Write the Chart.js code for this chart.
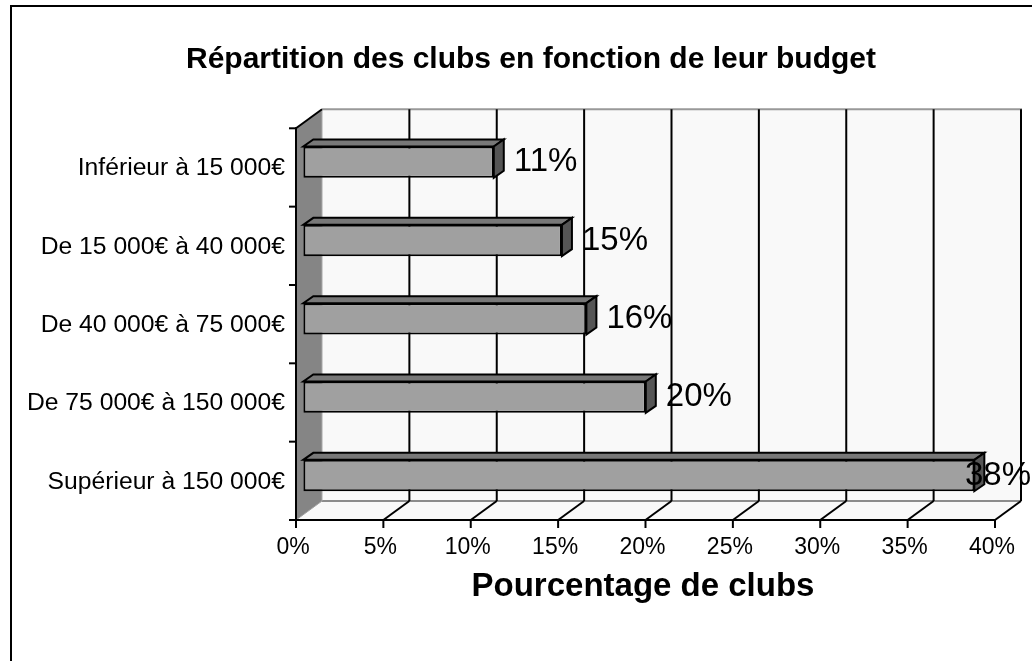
<!DOCTYPE html>
<html><head><meta charset="utf-8">
<script src="https://cdn.jsdelivr.net/npm/chart.js@4/dist/chart.umd.min.js"></script>
<style>html,body{margin:0;padding:0;background:#fff;}#wrap{width:1032px;height:661px;}</style>
</head><body><div id="wrap"><canvas id="c" width="1032" height="661"></canvas></div>
<script>
const categories = ["Inférieur à 15 000€", "De 15 000€ à 40 000€", "De 40 000€ à 75 000€", "De 75 000€ à 150 000€", "Supérieur à 150 000€"];
const values = [10.9, 14.8, 16.2, 19.6, 38.4];
const valueLabels = ["11%", "15%", "16%", "20%", "38%"];
const xTicks = [0, 5, 10, 15, 20, 25, 30, 35, 40];
const xTickLabels = ["0%", "5%", "10%", "15%", "20%", "25%", "30%", "35%", "40%"];
const chartTitle = "Répartition des clubs en fonction de leur budget";
const axisTitle = "Pourcentage de clubs";

const FONT = "'Liberation Sans', Arial, sans-serif";
const DEPTH = {dx: 26, dy: -19};
const BAR_SHIFT = {dx: 7.3, dy: -5.3};
const BAR_DEPTH = {dx: 10, dy: -7};

function poly(ctx, pts, fill, stroke, lw) {
  ctx.beginPath();
  ctx.moveTo(pts[0][0], pts[0][1]);
  for (let i = 1; i < pts.length; i++) ctx.lineTo(pts[i][0], pts[i][1]);
  ctx.closePath();
  if (fill) { ctx.fillStyle = fill; ctx.fill(); }
  if (stroke) { ctx.strokeStyle = stroke; ctx.lineWidth = lw || 1; ctx.stroke(); }
}
function line(ctx, x1, y1, x2, y2, color, lw) {
  ctx.beginPath(); ctx.moveTo(x1, y1); ctx.lineTo(x2, y2);
  ctx.strokeStyle = color; ctx.lineWidth = lw; ctx.stroke();
}

const threeD = {
  id: 'threeD',
  beforeDraw(chart) {
    const ctx = chart.ctx;
    ctx.save();
    ctx.fillStyle = '#fff';
    ctx.fillRect(0, 0, chart.width, chart.height);
    ctx.strokeStyle = '#000';
    ctx.lineWidth = 2;
    ctx.strokeRect(11, 6, chart.width + 20, chart.height + 20);
    ctx.fillStyle = '#000';
    ctx.font = 'bold 30px ' + FONT;
    ctx.textAlign = 'center';
    ctx.textBaseline = 'middle';
    ctx.fillText(chartTitle, 531, 60);
    ctx.restore();
  },
  beforeDatasetsDraw(chart) {
    const ctx = chart.ctx;
    const xs = chart.scales.x, ys = chart.scales.y;
    const x0 = xs.getPixelForValue(xTicks[0]);
    const x1 = xs.getPixelForValue(xTicks[xTicks.length - 1]);
    const step = ys.getPixelForValue(1) - ys.getPixelForValue(0);
    const yT = ys.getPixelForValue(0) - step / 2;
    const yB = ys.getPixelForValue(categories.length - 1) + step / 2;
    const dx = DEPTH.dx, dy = DEPTH.dy;
    ctx.save();
    ctx.lineJoin = 'miter';
    poly(ctx, [[x0 + dx, yT + dy], [x1 + dx, yT + dy], [x1 + dx, yB + dy], [x0 + dx, yB + dy]], '#f9f9f9');
    poly(ctx, [[x0, yB], [x1, yB], [x1 + dx, yB + dy], [x0 + dx, yB + dy]], '#f9f9f9');
    line(ctx, x0 + dx, yT + dy, x1 + dx + 1, yT + dy, '#999', 2);
    line(ctx, x0 + dx, yB + dy, x1 + dx, yB + dy, '#8c8c8c', 2);
    xTicks.forEach((v, i) => {
      const px = xs.getPixelForValue(v);
      if (i > 0) {
        line(ctx, px + dx, yT + dy, px + dx, yB + dy, '#000', 2);
        line(ctx, px, yB, px + dx, yB + dy, '#000', 2);
      }
    });
    poly(ctx, [[x0, yT], [x0 + dx, yT + dy], [x0 + dx, yB + dy], [x0, yB]], '#858585');
    line(ctx, x0 + dx, yT + dy, x0 + dx, yB + dy, '#a8a8a8', 1);
    line(ctx, x0, yB, x0 + dx, yB + dy, '#a0a0a0', 1);
    line(ctx, x0, yT, x0 + dx, yT + dy, '#000', 2);
    line(ctx, x0, yT - 1, x0, yB + 8, '#000', 2);
    line(ctx, x0 - 1, yB, x1 + 1, yB, '#000', 2);
    for (let i = 0; i <= categories.length; i++) {
      const py = yT + i * step;
      line(ctx, x0 - 7, py, x0, py, '#000', 2);
    }
    xTicks.forEach((v) => {
      const px = xs.getPixelForValue(v);
      line(ctx, px, yB, px, yB + 8, '#000', 2);
    });
    ctx.fillStyle = '#000';
    ctx.font = '24.7px ' + FONT;
    ctx.textAlign = 'right';
    ctx.textBaseline = 'middle';
    categories.forEach((c, i) => {
      ctx.fillText(c, x0 - 11, ys.getPixelForValue(i) + 1);
    });
    ctx.textAlign = 'center';
    ctx.font = '23px ' + FONT;
    xTicks.forEach((v, i) => {
      ctx.fillText(xTickLabels[i], xs.getPixelForValue(v) - 3, yB + 28);
    });
    ctx.font = 'bold 33px ' + FONT;
    ctx.fillText(axisTitle, 643, yB + 67);
    ctx.restore();
    ctx.save();
    ctx.translate(BAR_SHIFT.dx, BAR_SHIFT.dy);
  },
  afterDatasetsDraw(chart) {
    const ctx = chart.ctx;
    const meta = chart.getDatasetMeta(0);
    const bdx = BAR_DEPTH.dx, bdy = BAR_DEPTH.dy;
    ctx.lineJoin = 'miter';
    meta.data.forEach((el) => {
      const p = el.getProps(['x', 'y', 'base', 'height'], true);
      const t = p.y - p.height / 2, b = p.y + p.height / 2;
      poly(ctx, [[p.base, t], [p.x, t], [p.x + bdx, t + bdy], [p.base + bdx, t + bdy]], '#787878', '#000', 2);
      poly(ctx, [[p.x, t], [p.x + bdx, t + bdy], [p.x + bdx, b + bdy], [p.x, b]], '#555555', '#000', 2);
    });
    ctx.restore();
    ctx.save();
    ctx.fillStyle = '#000';
    ctx.font = '33px ' + FONT;
    ctx.textAlign = 'left';
    ctx.textBaseline = 'middle';
    meta.data.forEach((el, i) => {
      const p = el.getProps(['x', 'y'], true);
      const w = ctx.measureText(valueLabels[i]).width;
      let lx = p.x + BAR_SHIFT.dx + 20;
      if (lx + w > chart.width - 1) lx = chart.width - 1 - w;
      ctx.fillText(valueLabels[i], lx, p.y + BAR_SHIFT.dy);
    });
    ctx.restore();
  }
};

new Chart(document.getElementById('c'), {
  type: 'bar',
  data: {
    labels: categories,
    datasets: [{
      data: values,
      backgroundColor: '#a0a0a0',
      borderColor: '#000',
      borderWidth: 2,
      borderSkipped: false,
      categoryPercentage: 1,
      barPercentage: 0.4
    }]
  },
  options: {
    indexAxis: 'y',
    responsive: false,
    animation: false,
    devicePixelRatio: 1,
    layout: {padding: {left: 296, right: 37, top: 128.3, bottom: 141}},
    scales: {
      x: {type: 'linear', min: xTicks[0], max: xTicks[xTicks.length - 1], display: false},
      y: {display: false}
    },
    plugins: {
      legend: {display: false},
      tooltip: {enabled: false},
      title: {display: false}
    }
  },
  plugins: [threeD]
});
</script>
</body></html>
